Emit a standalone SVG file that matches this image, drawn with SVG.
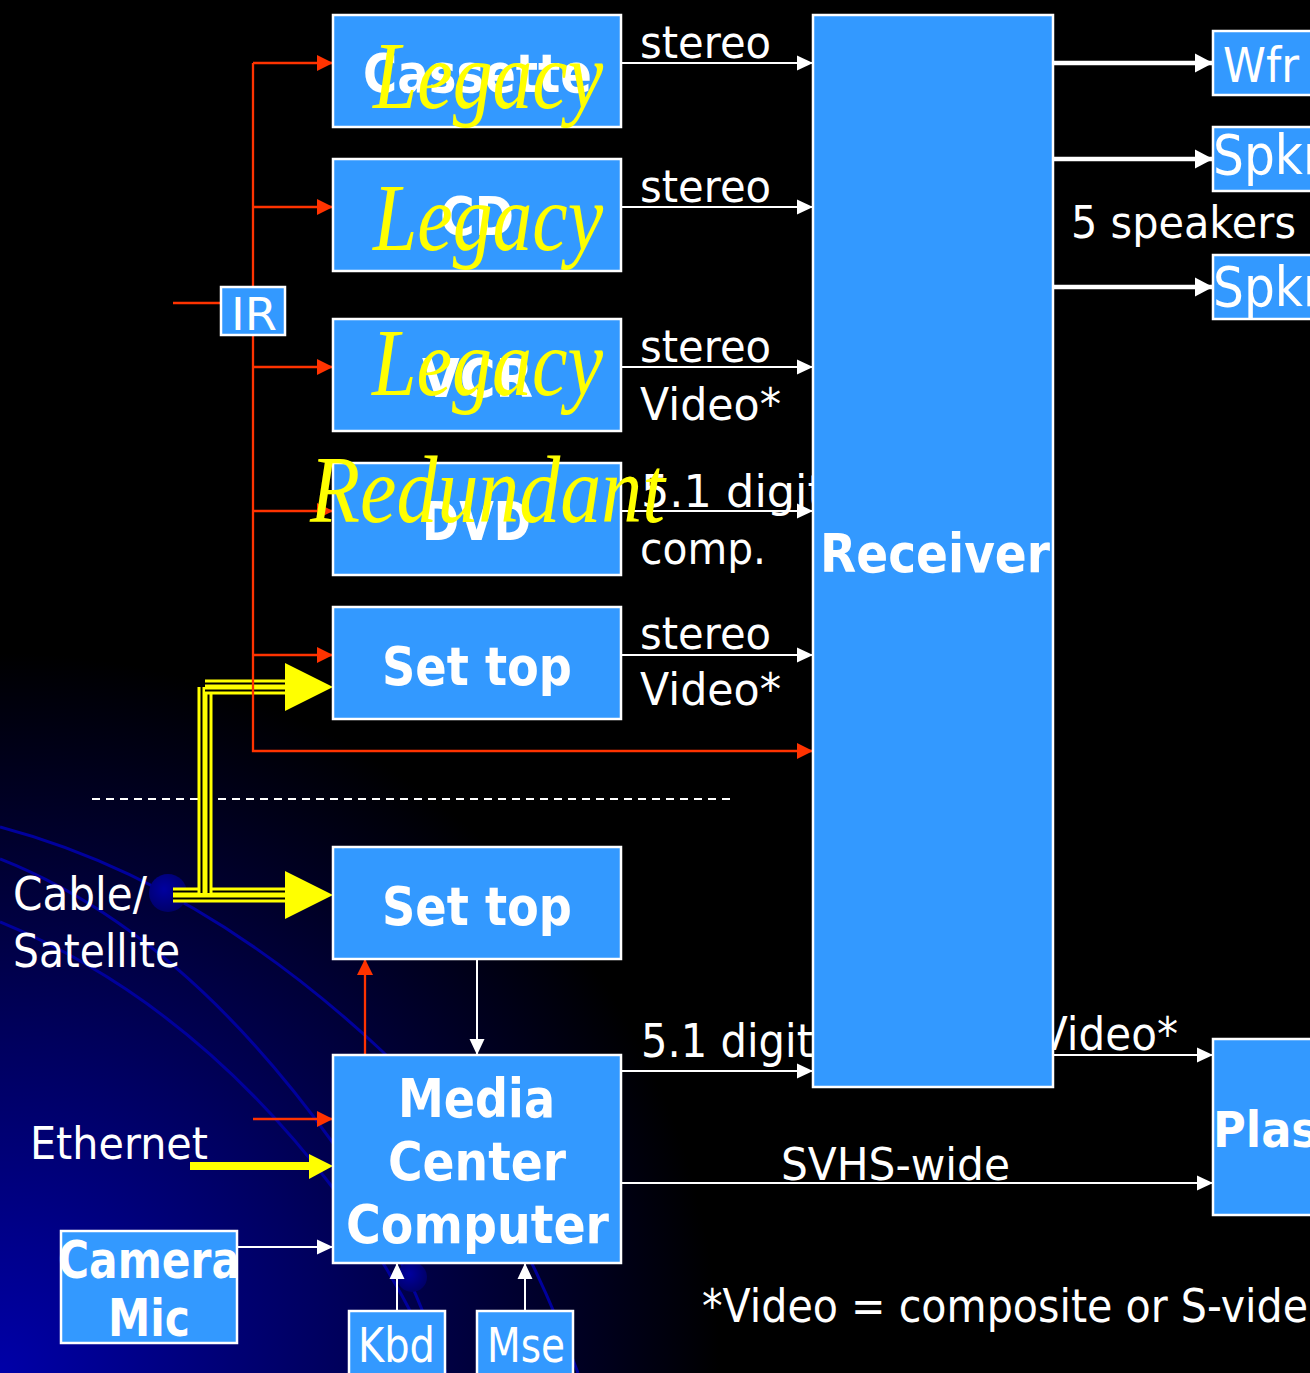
<svg xmlns="http://www.w3.org/2000/svg" width="1310" height="1373" viewBox="0 0 1310 1373">
<defs>
<style>
.box{fill:#3399FF;stroke:#FFFFFF;stroke-width:2.5}
.bl{font-family:"DejaVu Sans",sans-serif;font-weight:bold;fill:#FFFFFF;font-size:54px}
.lb{font-family:"DejaVu Sans",sans-serif;fill:#FFFFFF;font-size:44px}
.lg{font-family:"Liberation Serif",serif;font-style:italic;fill:#FFFF00;font-size:96px}
.w{stroke:#FFFFFF;stroke-width:2;fill:none}
.wt{stroke:#FFFFFF;stroke-width:4.5;fill:none}
.r{stroke:#FF3300;stroke-width:2.3;fill:none}
.y1{stroke:#FFFF00;stroke-width:15;fill:none}
.y2{stroke:#000000;stroke-width:9;fill:none}
.y3{stroke:#FFFF00;stroke-width:5;fill:none}
.curve{stroke:#00009C;stroke-width:3;fill:none}
</style>
<radialGradient id="bg" gradientUnits="userSpaceOnUse" cx="0" cy="1373" r="720">
<stop offset="0" stop-color="#0000A8"/>
<stop offset="0.45" stop-color="#000060"/>
<stop offset="1" stop-color="#000000"/>
</radialGradient>
<radialGradient id="dot" cx="0.4" cy="0.4" r="0.6">
<stop offset="0" stop-color="#0000A0"/>
<stop offset="1" stop-color="#00006A"/>
</radialGradient>
<marker id="wa" markerUnits="userSpaceOnUse" markerWidth="16" markerHeight="16" refX="16" refY="8" orient="auto" viewBox="0 0 16 16"><path d="M0,0.5 L16,8 L0,15.5 z" fill="#FFFFFF"/></marker>
<marker id="wb" markerUnits="userSpaceOnUse" markerWidth="18" markerHeight="20" refX="18" refY="10" orient="auto" viewBox="0 0 18 20"><path d="M0,0.5 L18,10 L0,19.5 z" fill="#FFFFFF"/></marker>
<marker id="ra" markerUnits="userSpaceOnUse" markerWidth="16" markerHeight="16" refX="16" refY="8" orient="auto" viewBox="0 0 16 16"><path d="M0,0 L16,8 L0,16 z" fill="#FF3300"/></marker>
</defs>

<g id="background">
<rect x="0" y="0" width="1310" height="1373" fill="#000000"/>
<rect x="0" y="0" width="1310" height="1373" fill="url(#bg)"/>
<path class="curve" d="M0,827 Q200,880 383,1052 Q500,1160 578,1373"/>
<path class="curve" d="M0,859 Q180,930 333,1143 Q400,1240 446,1373"/>
<path class="curve" d="M0,922 Q190,1000 333,1188 Q400,1280 440,1373"/>
<circle cx="168" cy="893" r="19" fill="url(#dot)"/>
<circle cx="412" cy="1277" r="15" fill="url(#dot)"/>
<line x1="92" y1="799" x2="730" y2="799" stroke="#FFFFFF" stroke-width="2" stroke-dasharray="8 6"/>
</g>

<g id="connectors">
<!-- yellow cable/satellite feed -->
<line class="y1" x1="173" y1="895" x2="286" y2="895"/>
<line class="y2" x1="173" y1="895" x2="286" y2="895"/>
<line class="y3" x1="173" y1="895" x2="286" y2="895"/>
<line class="y1" x1="205" y1="687" x2="205" y2="893"/>
<line class="y2" x1="205" y1="687" x2="205" y2="893"/>
<line class="y3" x1="205" y1="687" x2="205" y2="893"/>
<line class="y1" x1="205" y1="687" x2="286" y2="687"/>
<line class="y2" x1="205" y1="687" x2="286" y2="687"/>
<line class="y3" x1="205" y1="687" x2="286" y2="687"/>
<polygon points="285,663 333,687 285,711" fill="#FFFF00"/>
<polygon points="285,871 333,895 285,919" fill="#FFFF00"/>
<line x1="190" y1="1166" x2="311" y2="1166" stroke="#FFFF00" stroke-width="8"/>
<polygon points="309,1154 333,1166 309,1179" fill="#FFFF00"/>

<!-- red IR lines -->
<path class="r" d="M173,303 H221"/>
<path class="r" d="M253,63 V751 H813" marker-end="url(#ra)"/>
<path class="r" d="M253,63 H333" marker-end="url(#ra)"/>
<path class="r" d="M253,207 H333" marker-end="url(#ra)"/>
<path class="r" d="M253,367 H333" marker-end="url(#ra)"/>
<path class="r" d="M253,511 H333" marker-end="url(#ra)"/>
<path class="r" d="M253,655 H333" marker-end="url(#ra)"/>
<path class="r" d="M253,1119 H333" marker-end="url(#ra)"/>
<path class="r" d="M365,1055 V959" marker-end="url(#ra)"/>

<!-- white signal lines -->
<path class="w" d="M621,63 H813" marker-end="url(#wa)"/>
<path class="w" d="M621,207 H813" marker-end="url(#wa)"/>
<path class="w" d="M621,367 H813" marker-end="url(#wa)"/>
<path class="w" d="M621,511 H813" marker-end="url(#wa)"/>
<path class="w" d="M621,655 H813" marker-end="url(#wa)"/>
<path class="w" d="M621,1071 H813" marker-end="url(#wa)"/>
<path class="w" d="M1053,1055 H1213" marker-end="url(#wa)"/>
<path class="w" d="M621,1183 H1213" marker-end="url(#wa)"/>
<path class="wt" d="M1053,63 H1213" marker-end="url(#wb)"/>
<path class="wt" d="M1053,159 H1213" marker-end="url(#wb)"/>
<path class="wt" d="M1053,287 H1213" marker-end="url(#wb)"/>
<path class="w" d="M477,959 V1055" marker-end="url(#wa)"/>
<path class="w" d="M237,1247 H333" marker-end="url(#wa)"/>
<path class="w" d="M397,1311 V1263" marker-end="url(#wa)"/>
<path class="w" d="M525,1311 V1263" marker-end="url(#wa)"/>

<!-- labels -->
<text class="lb" x="640" y="58" textLength="131" lengthAdjust="spacingAndGlyphs">stereo</text>
<text class="lb" x="640" y="202" textLength="131" lengthAdjust="spacingAndGlyphs">stereo</text>
<text class="lb" x="640" y="362" textLength="131" lengthAdjust="spacingAndGlyphs">stereo</text>
<text class="lb" x="640" y="420" textLength="141" lengthAdjust="spacingAndGlyphs">Video*</text>
<text class="lb" x="641" y="507" textLength="184" lengthAdjust="spacingAndGlyphs">5.1 digit</text>
<text class="lb" x="640" y="564" textLength="126" lengthAdjust="spacingAndGlyphs">comp.</text>
<text class="lb" x="640" y="649" textLength="131" lengthAdjust="spacingAndGlyphs">stereo</text>
<text class="lb" x="640" y="705" textLength="141" lengthAdjust="spacingAndGlyphs">Video*</text>
<text class="lb" x="641" y="1057" style="font-size:46px" textLength="172" lengthAdjust="spacingAndGlyphs">5.1 digit</text>
<text class="lb" x="1039" y="1050" style="font-size:46px" textLength="139" lengthAdjust="spacingAndGlyphs">Video*</text>
<text class="lb" x="781" y="1180" textLength="229" lengthAdjust="spacingAndGlyphs">SVHS-wide</text>
<text class="lb" x="1071" y="238" style="font-size:45px" textLength="225" lengthAdjust="spacingAndGlyphs">5 speakers</text>
<text class="lb" x="13" y="910" style="font-size:46px" textLength="134" lengthAdjust="spacingAndGlyphs">Cable/</text>
<text class="lb" x="13" y="967" style="font-size:46px" textLength="167" lengthAdjust="spacingAndGlyphs">Satellite</text>
<text class="lb" x="30" y="1159" style="font-size:45px" textLength="178" lengthAdjust="spacingAndGlyphs">Ethernet</text>
<text class="lb" x="702" y="1322" style="font-size:46px" textLength="606" lengthAdjust="spacingAndGlyphs">*Video = composite or S-vide</text>
</g>

<g id="node-cassette">
<rect class="box" x="333" y="15" width="288" height="112"/>
<text class="bl" x="363" y="92" textLength="229" lengthAdjust="spacingAndGlyphs">Cassette</text>
</g>
<g id="node-cd">
<rect class="box" x="333" y="159" width="288" height="112"/>
<text class="bl" x="440" y="235" textLength="74" lengthAdjust="spacingAndGlyphs">CD</text>
</g>
<g id="node-vcr">
<rect class="box" x="333" y="319" width="288" height="112"/>
<text class="bl" x="422" y="397" textLength="111" lengthAdjust="spacingAndGlyphs">VCR</text>
</g>
<g id="node-dvd">
<rect class="box" x="333" y="463" width="288" height="112"/>
<text class="bl" x="422" y="540" textLength="109" lengthAdjust="spacingAndGlyphs">DVD</text>
</g>
<g id="node-settop1">
<rect class="box" x="333" y="607" width="288" height="112"/>
<text class="bl" x="382" y="685" textLength="190" lengthAdjust="spacingAndGlyphs">Set top</text>
</g>
<g id="node-settop2">
<rect class="box" x="333" y="847" width="288" height="112"/>
<text class="bl" x="382" y="925" textLength="190" lengthAdjust="spacingAndGlyphs">Set top</text>
</g>
<g id="node-mcc">
<rect class="box" x="333" y="1055" width="288" height="208"/>
<text class="bl" x="398" y="1117" textLength="157" lengthAdjust="spacingAndGlyphs">Media</text>
<text class="bl" x="388" y="1180" textLength="178" lengthAdjust="spacingAndGlyphs">Center</text>
<text class="bl" x="346" y="1243" textLength="263" lengthAdjust="spacingAndGlyphs">Computer</text>
</g>
<g id="node-receiver">
<rect class="box" x="813" y="15" width="240" height="1072"/>
<text class="bl" x="820" y="572" textLength="230" lengthAdjust="spacingAndGlyphs">Receiver</text>
</g>
<g id="node-wfr">
<rect class="box" x="1213" y="31" width="110" height="64"/>
<text class="lb" x="1223" y="82" style="font-size:48px" textLength="76" lengthAdjust="spacingAndGlyphs">Wfr</text>
</g>
<g id="node-spkr1">
<rect class="box" x="1213" y="127" width="110" height="64"/>
<text class="lb" x="1213" y="174" style="font-size:56px" textLength="110" lengthAdjust="spacingAndGlyphs">Spkr</text>
</g>
<g id="node-spkr2">
<rect class="box" x="1213" y="255" width="110" height="64"/>
<text class="lb" x="1213" y="306" style="font-size:56px" textLength="110" lengthAdjust="spacingAndGlyphs">Spkr</text>
</g>
<g id="node-plasma">
<rect class="box" x="1213" y="1039" width="110" height="176"/>
<text class="bl" x="1213" y="1147" style="font-size:50px" textLength="105" lengthAdjust="spacingAndGlyphs">Plas</text>
</g>
<g id="node-ir">
<rect class="box" x="221" y="287" width="64" height="48"/>
<text class="lb" x="231" y="330" style="font-size:45px" textLength="46" lengthAdjust="spacingAndGlyphs">IR</text>
</g>
<g id="node-camera">
<rect class="box" x="61" y="1231" width="176" height="112"/>
<text class="bl" x="58" y="1278" style="font-size:52px" textLength="182" lengthAdjust="spacingAndGlyphs">Camera</text>
<text class="bl" x="108" y="1336" style="font-size:52px" textLength="82" lengthAdjust="spacingAndGlyphs">Mic</text>
</g>
<g id="node-kbd">
<rect class="box" x="349" y="1311" width="96" height="70"/>
<text class="lb" x="358" y="1362" style="font-size:48px" textLength="77" lengthAdjust="spacingAndGlyphs">Kbd</text>
</g>
<g id="node-mse">
<rect class="box" x="477" y="1311" width="96" height="70"/>
<text class="lb" x="487" y="1362" style="font-size:48px" textLength="78" lengthAdjust="spacingAndGlyphs">Mse</text>
</g>

<g id="annotations">
<text class="lg" x="373" y="108" textLength="230" lengthAdjust="spacingAndGlyphs">Legacy</text>
<text class="lg" x="373" y="250" textLength="230" lengthAdjust="spacingAndGlyphs">Legacy</text>
<text class="lg" x="372" y="395" textLength="231" lengthAdjust="spacingAndGlyphs">Legacy</text>
<text class="lg" x="310" y="522" textLength="355" lengthAdjust="spacingAndGlyphs">Redundant</text>
</g>
</svg>
